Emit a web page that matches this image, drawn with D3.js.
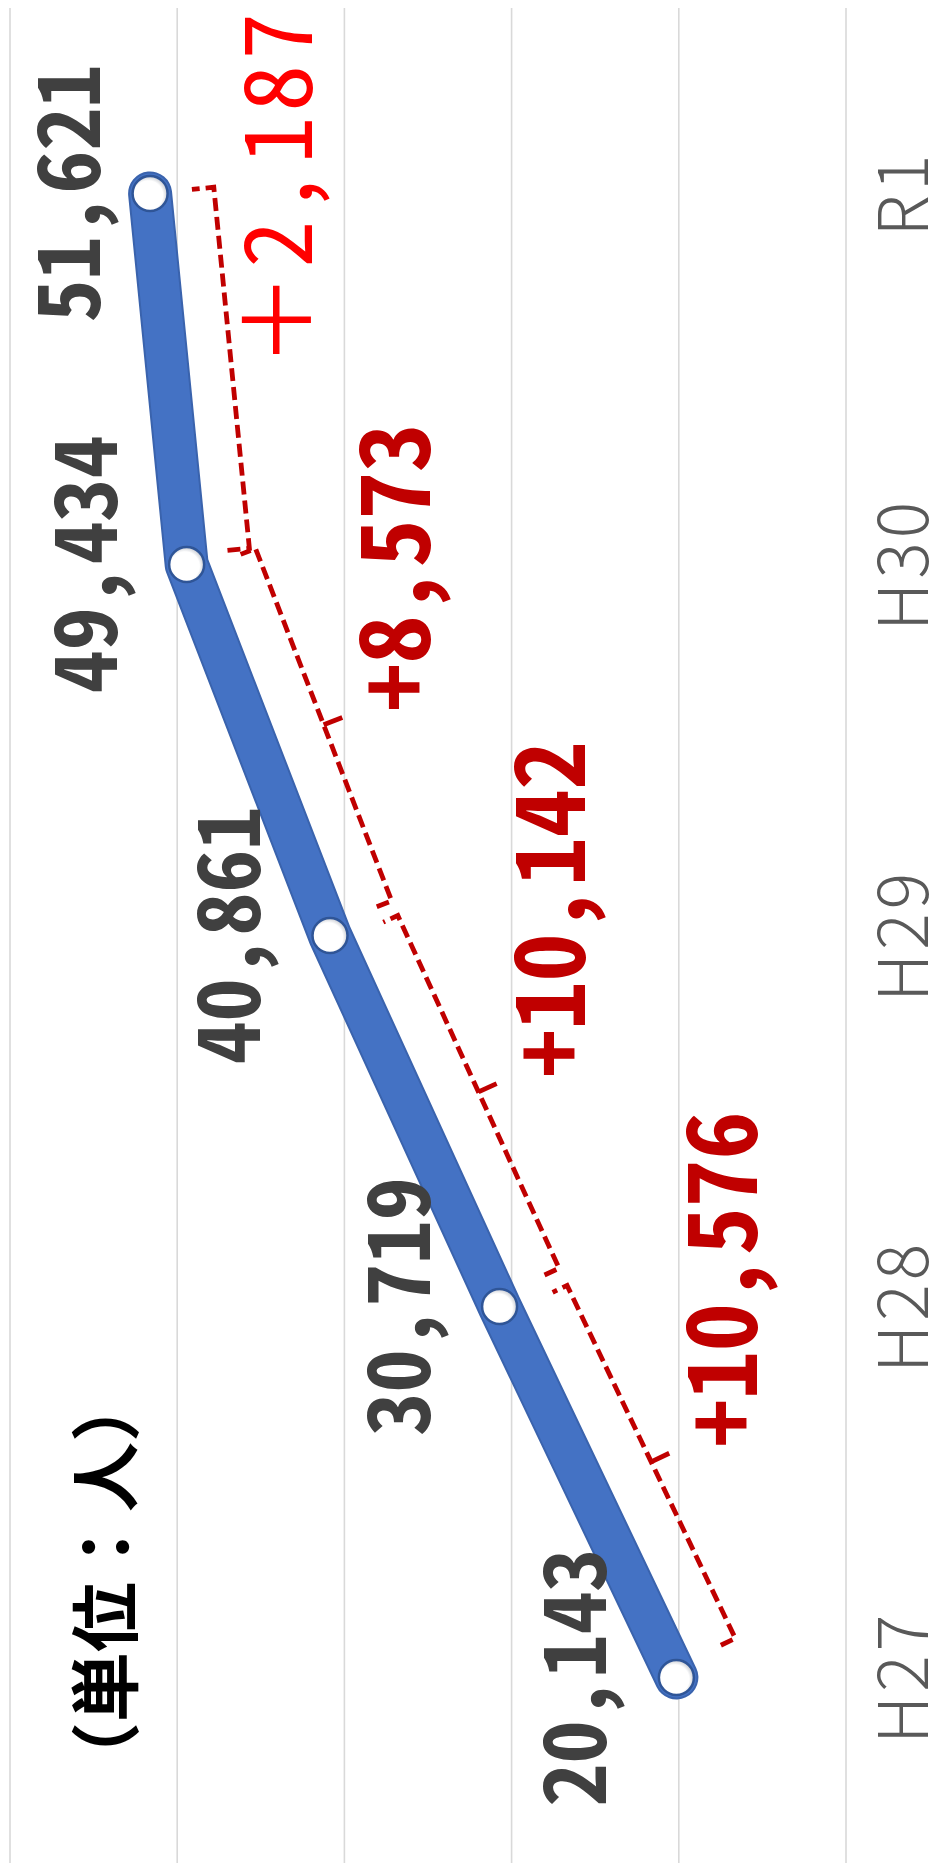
<!DOCTYPE html>
<html lang="ja">
<head>
<meta charset="utf-8">
<script src="https://cdn.jsdelivr.net/npm/d3@7"></script>
<style>
  html, body { margin: 0; padding: 0; background: #ffffff; }
  svg { display: block; }
</style>
</head>
<body>
<svg id="chart" width="949" height="1865"></svg>
<script>
// Visitors per fiscal year (persons)
const categories = ["H27", "H28", "H29", "H30", "R1"];
const visitors = [20143, 30719, 40861, 49434, 51621];
const valueTicks = [10000, 20000, 30000, 40000, 50000, 60000];
const unitLabel = "（単位：人）";

const W = 949, H = 1865;              // page size (portrait)
const cw = H;                          // chart is laid out landscape, then turned

const svg = d3.select("#chart");
const g = svg.append("g")
  .attr("transform", `translate(0,${H}) rotate(-90)`);

const x = d3.scalePoint()
  .domain(categories)
  .range([2, cw - 8])
  .padding(0.5);

const y = d3.scaleLinear()
  .domain([10000, 60000])
  .range([846, 10]);

// horizontal gridlines
g.append("g")
  .selectAll("line")
  .data(valueTicks)
  .join("line")
  .attr("x1", 2)
  .attr("x2", cw - 8)
  .attr("y1", d => y(d))
  .attr("y2", d => y(d))
  .attr("stroke", "#d9d9d9")
  .attr("stroke-width", 1.6);

// category axis labels
g.append("g")
  .selectAll("text")
  .data(categories)
  .join("text")
  .attr("x", d => x(d))
  .attr("y", 928)
  .attr("text-anchor", "middle")
  .attr("font-family", '"Noto Sans CJK JP", "Noto Sans", sans-serif')
  .attr("font-weight", 300)
  .attr("font-size", 68)
  .attr("letter-spacing", 4)
  .attr("fill", "#595959")
  .text(d => d);

const pts = categories.map((c, i) => ({ c, v: visitors[i], px: x(c), py: y(visitors[i]) }));

// the series line
const line = d3.line().x(d => d.px).y(d => d.py);
g.append("path")
  .datum(pts)
  .attr("d", line)
  .attr("fill", "none")
  .attr("stroke", "#3a63ad")
  .attr("stroke-width", 44)
  .attr("stroke-linecap", "round")
  .attr("stroke-linejoin", "round");
g.append("path")
  .datum(pts)
  .attr("d", line)
  .attr("fill", "none")
  .attr("stroke", "#4472c4")
  .attr("stroke-width", 40)
  .attr("stroke-linecap", "round")
  .attr("stroke-linejoin", "round");

// markers
const defs = svg.append("defs");
const grad = defs.append("radialGradient").attr("id", "mk").attr("cx", "45%").attr("cy", "45%").attr("r", "55%");
grad.append("stop").attr("offset", "0%").attr("stop-color", "#ffffff");
grad.append("stop").attr("offset", "75%").attr("stop-color", "#ffffff");
grad.append("stop").attr("offset", "100%").attr("stop-color", "#c9ccd2");

g.append("g")
  .selectAll("circle")
  .data(pts)
  .join("circle")
  .attr("cx", d => d.px)
  .attr("cy", d => d.py)
  .attr("r", 17.5)
  .attr("fill", "url(#mk)")
  .attr("stroke", "#2f5597")
  .attr("stroke-width", 2.5);

// value labels (kept inside the canvas)
const fmt = d3.format(",");
const numFont = '"Noto Sans Mono CJK JP", "DejaVu Sans Mono", monospace';
g.append("g")
  .selectAll("text")
  .data(pts)
  .join("text")
  .attr("x", d => d.px)
  .attr("y", d => Math.max(d.py - 70, 100))
  .attr("text-anchor", "middle")
  .attr("font-family", numFont)
  .attr("font-weight", 700)
  .attr("font-size", 86)
  .attr("fill", "#404040")
  .text(d => fmt(d.v));

// year-on-year increase brackets
const off = 70, hook = 16, inset = 10, tipLen = 20;
const incr = g.append("g");
for (let i = 0; i < pts.length - 1; i++) {
  const A = pts[i], B = pts[i + 1];
  const dx = B.px - A.px, dy = B.py - A.py;
  const L = Math.hypot(dx, dy);
  const d = [dx / L, dy / L];
  const n = [-d[1], d[0]];
  const P = (bx, by, a, o) => [bx + d[0] * a + n[0] * o, by + d[1] * a + n[1] * o];
  const last = i === pts.length - 2;
  const o = last ? 64 : off;
  const hk = last ? 22 : hook;
  const s = P(A.px, A.py, inset, o), sh = P(A.px, A.py, inset, o - hk);
  const e = P(B.px, B.py, last ? 0 : -inset, o), eh = P(B.px, B.py, last ? 0 : -inset, o - hk);
  const mx = (A.px + B.px) / 2, my = (A.py + B.py) / 2;

  incr.append("path")
    .attr("d", d3.line()([sh, s, e, eh]))
    .attr("fill", "none")
    .attr("stroke", "#c00000")
    .attr("stroke-width", 4.8)
    .attr("stroke-dasharray", "13 6");

  if (!last) {
    incr.append("path")
      .attr("d", d3.line()([P(mx, my, 0, o), P(mx, my, 0, o + tipLen)]))
      .attr("stroke", "#c00000")
      .attr("stroke-width", 4.8);
  }

  const lab = P(mx, my, 0, last ? o : o + tipLen);
  const diff = B.v - A.v;
  incr.append("text")
    .attr("x", lab[0] + 6)
    .attr("y", lab[1] + (last ? 80 : 88))
    .attr("font-family", numFont)
    .attr("font-weight", last ? 400 : 700)
    .attr("font-size", last ? 94 : 96)
    .attr("letter-spacing", last ? 5 : 0)
    .attr("fill", last ? "#ff0000" : "#c00000")
    .text((last ? "＋" : "+") + fmt(diff));
}

// unit note
g.append("text")
  .attr("x", 283)
  .attr("y", 132)
  .attr("text-anchor", "middle")
  .attr("font-family", '"Noto Sans CJK JP", sans-serif')
  .attr("font-weight", 700)
  .attr("font-size", 70)
  .attr("fill", "#000000")
  .text(unitLabel);
</script>
</body>
</html>
